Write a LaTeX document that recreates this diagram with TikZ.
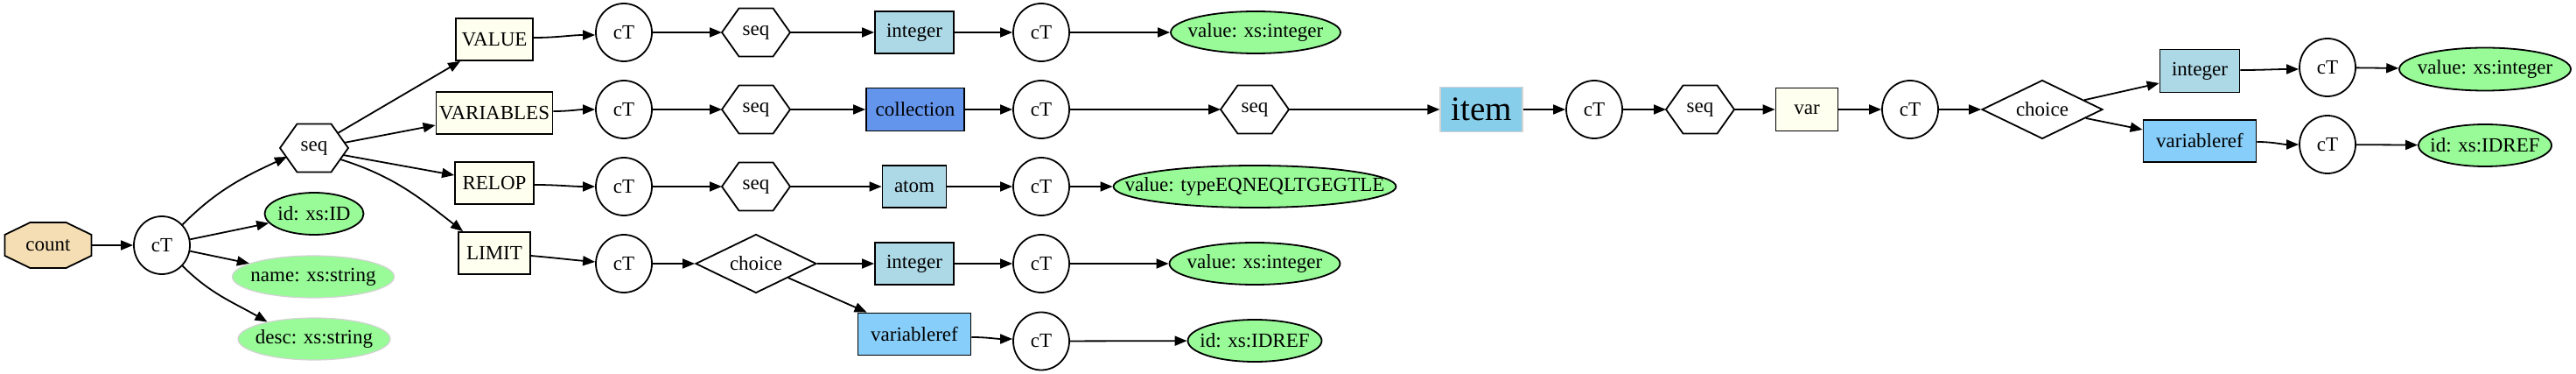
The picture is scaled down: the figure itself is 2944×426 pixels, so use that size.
\documentclass[tikz,border=0pt]{standalone}
\usepackage{fontspec}
\setmainfont{Liberation Serif}
\usetikzlibrary{shapes.geometric,arrows.meta,calc}
\pgfdeclarelayer{background}
\pgfsetlayers{background,main}
\definecolor{wheat}{HTML}{F5DEB3}
\definecolor{ivory}{HTML}{FFFFF0}
\definecolor{lblue}{HTML}{ADD8E6}
\definecolor{cfblue}{HTML}{6495ED}
\definecolor{lsky}{HTML}{87CEFA}
\definecolor{sky}{HTML}{87CEEB}
\definecolor{pgreen}{HTML}{98FB98}
\definecolor{lgray}{HTML}{D3D3D3}
\newcommand\zw[1]{\makebox[0pt]{#1}}
\newcommand\hexshape[1]{\draw[hexline] (#1.west) -- ($(#1.north west)!0.25!(#1.north east)$) -- ($(#1.north west)!0.75!(#1.north east)$) -- (#1.east) -- ($(#1.south west)!0.75!(#1.south east)$) -- ($(#1.south west)!0.25!(#1.south east)$) -- cycle;}
\begin{document}
\begin{tikzpicture}[x=1pt,y=1pt,
  every node/.style={font=\fontsize{23}{27}\selectfont, inner sep=0pt},
  lw/.style={line width=1.8pt},
  arr/.style={line width=1.8pt, -{Triangle[length=14pt,width=11pt]}},
  ctnode/.style={ellipse, draw, line width=1.8pt, minimum width=64pt, minimum height=66pt},
  seqnode/.style={rectangle, minimum width=78pt, minimum height=55pt, outer sep=0pt},
  plainbox/.style={rectangle, outer sep=0pt},
  hexline/.style={line width=1.8pt, line join=miter},
  choicenode/.style={diamond, aspect=2, draw, line width=1.8pt, minimum width=138pt, minimum height=67pt},
  elem/.style={rectangle, draw, line width=1.8pt, fill=ivory, minimum height=48pt},
  typebox/.style={rectangle, draw, line width=1.8pt, fill=lblue, minimum height=48pt},
  vrefbox/.style={rectangle, draw, line width=1.8pt, fill=lsky, minimum width=129pt, minimum height=48pt},
  attr/.style={ellipse, draw, line width=1.8pt, fill=pgreen, minimum height=48pt},
  attrsoft/.style={ellipse, draw=lgray, line width=1.2pt, fill=pgreen, minimum height=48pt},
]
\useasboundingbox (0,0) rectangle (2944,426);

% left part
\node[plainbox, minimum width=99pt, minimum height=52pt] (count) at (55,146) {count};
\begin{pgfonlayer}{background}
\draw[lw, fill=wheat] ($(count.north west)+(29,0)$) -- ($(count.north east)+(-29,0)$) -- ($(count.north east)+(0,-14)$) -- ($(count.south east)+(0,14)$) -- ($(count.south east)+(-29,0)$) -- ($(count.south west)+(29,0)$) -- ($(count.south west)+(0,14)$) -- ($(count.north west)+(0,-14)$) -- cycle;
\end{pgfonlayer}
\node[ctnode] (ct0) at (185,146) {cT};
\node[seqnode] (seq0) at (359,257) {seq};
\node[attr, minimum width=113pt] (id0) at (359,182) {\zw{id: xs:ID}};
\node[attrsoft, minimum width=185pt] (name0) at (358,110) {\zw{name: xs:string}};
\node[attrsoft, minimum width=174pt] (desc0) at (359,39) {\zw{desc: xs:string}};
\node[elem, minimum width=88pt] (VALUE) at (565,381) {VALUE};
\node[elem, minimum width=133pt] (VARIABLES) at (565,297) {VARIABLES};
\node[elem, minimum width=90pt] (RELOP) at (565,217) {RELOP};
\node[elem, minimum width=82pt] (LIMIT) at (565,137) {LIMIT};

% row 1
\node[ctnode] (ct1) at (713,389) {cT};
\node[seqnode] (seq1) at (864,389) {seq};
\node[typebox, minimum width=90pt] (int1) at (1045,389) {integer};
\node[ctnode] (ct1b) at (1190,389) {cT};
\node[attr, minimum width=194pt] (val1) at (1435,389) {\zw{value: xs:integer}};

% row 2
\node[ctnode] (ct2) at (713,301) {cT};
\node[seqnode] (seq2) at (864,301) {seq};
\node[rectangle, draw, lw, fill=cfblue, minimum width=112pt, minimum height=49pt] (coll) at (1046,301) {collection};
\node[ctnode] (ct2b) at (1190,301) {cT};
\node[seqnode] (seq2b) at (1434,301) {seq};
\node[rectangle, draw=lgray, line width=1.2pt, fill=sky, minimum width=94pt, minimum height=51pt, font=\fontsize{39}{44}\selectfont] (item) at (1693,301) {item};
\node[ctnode] (ct2c) at (1822,301) {cT};
\node[seqnode] (seq2c) at (1943,301) {seq};
\node[elem, minimum width=71pt, minimum height=49pt] (var) at (2065,301) {var};
\node[ctnode] (ct2d) at (2183,301) {cT};
\node[choicenode] (ch2) at (2334,301) {choice};
\node[typebox, minimum width=91pt, minimum height=49pt] (int2) at (2514,345) {integer};
\node[ctnode] (ct2e) at (2660,349) {cT};
\node[attr, minimum width=196pt, minimum height=49pt] (val2) at (2840,347) {\zw{value: xs:integer}};
\node[vrefbox] (vref2) at (2514,265) {variableref};
\node[ctnode] (ct2f) at (2660,261) {cT};
\node[attr, minimum width=152pt] (idref2) at (2840,260) {\zw{id: xs:IDREF}};

% row 3
\node[ctnode] (ct3) at (713,213) {cT};
\node[seqnode] (seq3) at (864,213) {seq};
\node[typebox, minimum width=73pt] (atom) at (1045,213) {atom};
\node[ctnode] (ct3b) at (1190,213) {cT};
\node[attr, minimum width=323pt] (valt) at (1434,213) {\zw{value: typeEQNEQLTGEGTLE}};

% row 4 and 5
\node[ctnode] (ct4) at (713,125) {cT};
\node[choicenode] (ch4) at (864,125) {choice};
\node[typebox, minimum width=90pt] (int4) at (1045,125) {integer};
\node[ctnode] (ct4b) at (1190,125) {cT};
\node[attr, minimum width=195pt] (val4) at (1434,125) {\zw{value: xs:integer}};
\node[vrefbox] (vref4) at (1045,44.5) {variableref};
\node[ctnode] (ct5) at (1190,36.5) {cT};
\node[attr, minimum width=153pt] (idref4) at (1434,37) {\zw{id: xs:IDREF}};

% hexagons
\foreach \s in {seq0,seq1,seq2,seq3,seq2b,seq2c} {\hexshape{\s}}

% edges
\draw[arr] (count) -- (ct0);
\draw[arr] (ct0.45) to[out=45,in=205] ($(seq0.center)+(-31,-10)$);
\draw[arr] (ct0) -- (id0);
\draw[arr] (ct0) -- (name0);
\draw[arr] (ct0.-45) to[out=-45,in=150] (desc0.160);

\draw[arr] ($(seq0.center)+(27,17)$) -- ($(VALUE.south west)+(6,0)$);
\draw[arr] ($(seq0.center)+(34,6)$) -- ($(VARIABLES.west)+(0,-14)$);
\draw[arr] ($(seq0.center)+(33,-8)$) -- ($(RELOP.west)+(0,9)$);
\draw[arr] ($(seq0.center)+(30,-13)$) .. controls (450,225) and (480,200) .. ($(LIMIT.north west)+(6,0)$);

\draw[arr] ([yshift=2pt]VALUE.east) to[out=0,in=180] ([yshift=-3pt]ct1.west);
\draw[arr] (ct1) -- (seq1);
\draw[arr] (seq1) -- (int1);
\draw[arr] (int1) -- (ct1b);
\draw[arr] (ct1b) -- (val1);

\draw[arr] ([yshift=2pt]VARIABLES.east) to[out=0,in=180] (ct2.west);
\draw[arr] (ct2) -- (seq2);
\draw[arr] (seq2) -- (coll);
\draw[arr] (coll) -- (ct2b);
\draw[arr] (ct2b) -- (seq2b);
\draw[arr] (seq2b) -- (item);
\draw[arr] (item) -- (ct2c);
\draw[arr] (ct2c) -- (seq2c);
\draw[arr] (seq2c) -- (var);
\draw[arr] (var) -- (ct2d);
\draw[arr] (ct2d) -- (ch2);
\draw[arr] (ch2) -- ($(int2.west)+(0,-14)$);
\draw[arr] (ch2) -- ($(vref2.west)+(0,13)$);
\draw[arr] ([yshift=1pt]int2.east) to[out=0,in=180] ([yshift=-2pt]ct2e.west);
\draw[arr] (ct2e) -- (val2);
\draw[arr] ([yshift=-1pt]vref2.east) to[out=0,in=180] (ct2f.west);
\draw[arr] (ct2f) -- (idref2);

\draw[arr] ([yshift=-2pt]RELOP.east) to[out=0,in=180] (ct3.west);
\draw[arr] (ct3) -- (seq3);
\draw[arr] (seq3) -- (atom);
\draw[arr] (atom) -- (ct3b);
\draw[arr] (ct3b) -- (valt);

\draw[arr] ([yshift=-3pt]LIMIT.east) to[out=-5,in=175] ([yshift=2pt]ct4.west);
\draw[arr] (ct4) -- (ch4);
\draw[arr] (ch4) -- (int4);
\draw[arr] (int4) -- (ct4b);
\draw[arr] (ct4b) -- (val4);
\draw[arr] (ch4) -- ($(vref4.north west)+(11,0)$);
\draw[arr] ([yshift=-3.5pt]vref4.east) to[out=0,in=180] ([yshift=2.5pt]ct5.west);
\draw[arr] (ct5) -- (idref4);
\end{tikzpicture}
\end{document}
